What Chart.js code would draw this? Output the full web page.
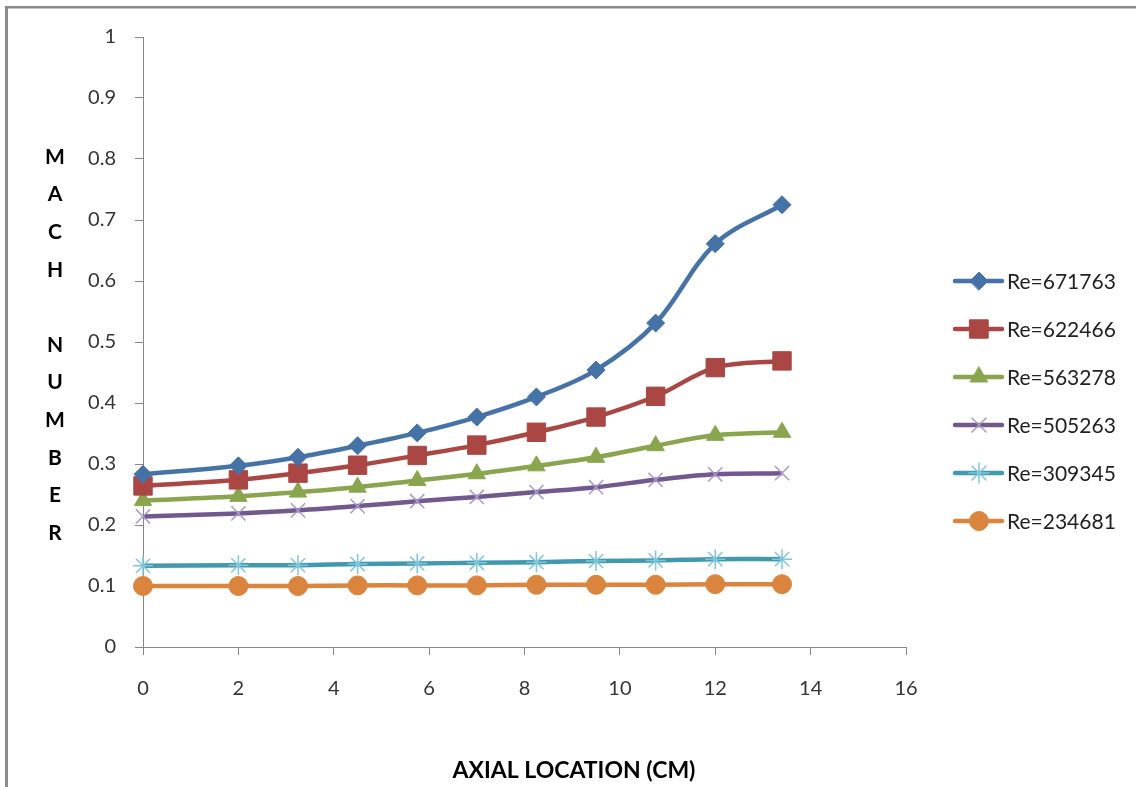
<!DOCTYPE html>
<html>
<head>
<meta charset="utf-8">
<script src="https://cdn.jsdelivr.net/npm/chart.js@4/dist/chart.umd.min.js"></script>
<style>
  html, body { margin: 0; padding: 0; background: #fff; overflow: hidden; }
  #mach { display: block; }
</style>
</head>
<body>
<canvas id="mach" width="1136" height="787"></canvas>
<script>
// axial location (cm)
const axialCm = [0, 2, 3.25, 4.5, 5.75, 7, 8.25, 9.5, 10.75, 12, 13.4];

// mach number per Reynolds number
const re671763 = [0.283, 0.297, 0.311, 0.330, 0.351, 0.377, 0.410, 0.454, 0.531, 0.661, 0.725];
const re622466 = [0.264, 0.274, 0.285, 0.298, 0.314, 0.331, 0.352, 0.377, 0.411, 0.458, 0.469];
const re563278 = [0.240, 0.247, 0.254, 0.262, 0.273, 0.284, 0.297, 0.311, 0.330, 0.347, 0.352];
const re505263 = [0.214, 0.219, 0.224, 0.231, 0.239, 0.246, 0.254, 0.262, 0.274, 0.283, 0.285];
const re309345 = [0.133, 0.134, 0.134, 0.136, 0.137, 0.138, 0.139, 0.141, 0.142, 0.144, 0.144];
const re234681 = [0.100, 0.100, 0.100, 0.101, 0.101, 0.101, 0.102, 0.102, 0.102, 0.103, 0.103];

const seriesLabels = ['Re=671763', 'Re=622466', 'Re=563278', 'Re=505263', 'Re=309345', 'Re=234681'];
const xTicks = [0, 2, 4, 6, 8, 10, 12, 14, 16];
const yTitle = 'MACH NUMBER';
const xTitle = 'AXIAL LOCATION (CM)';

const FONT = 'Lato, "Open Sans", sans-serif';

const toPoints = (ys) => ys.map((y, i) => ({ x: axialCm[i], y }));

const styles = [
    { color: '#4572A7', point: 'rectRot', radius: 9, pointBorder: '#4572A7', pw: 1 },
    { color: '#AA4643', point: 'rect', radius: 13, pointBorder: '#AA4643', pw: 1 },
    { color: '#89A54E', point: 'triangle', radius: 10, pointBorder: '#89A54E', pw: 1 },
    { color: '#71588F', point: 'crossRot', radius: 10, pointBorder: '#A898C4', pw: 1.5 },
    { color: '#4198AF', point: 'star', radius: 10, pointBorder: '#7FC6DA', pw: 1.5 },
    { color: '#DB843D', point: 'circle', radius: 9.5, pointBorder: '#DB843D', pw: 1 }
];
const allSeries = [re671763, re622466, re563278, re505263, re309345, re234681];

const datasets = allSeries.map((ys, i) => ({
    label: seriesLabels[i],
    data: toPoints(ys),
    borderColor: styles[i].color,
    backgroundColor: styles[i].color,
    borderWidth: 4.5,
    tension: 0.35,
    pointStyle: styles[i].point,
    pointRadius: styles[i].radius,
    pointHoverRadius: styles[i].radius,
    pointBackgroundColor: styles[i].color,
    pointBorderColor: styles[i].pointBorder,
    pointBorderWidth: styles[i].pw,
    clip: false
}));

function markerPath(ctx, style, r, x, y) {
    if (Chart.helpers && Chart.helpers.drawPoint) {
        Chart.helpers.drawPoint(ctx, { pointStyle: style, radius: r, rotation: 0, borderWidth: 1 }, x, y);
        return;
    }
    ctx.beginPath();
    ctx.arc(x, y, r, 0, Math.PI * 2);
    ctx.fill();
}

const decorPlugin = {
    id: 'decor',
    beforeDraw(chart) {
        const ctx = chart.ctx;
        ctx.save();
        ctx.fillStyle = '#fff';
        ctx.fillRect(0, 0, chart.width, chart.height);
        ctx.fillStyle = '#8a8a8a';
        ctx.fillRect(5, 6, chart.width - 5, 2.5);
        ctx.fillRect(5, 6, 3, chart.height - 6);
        ctx.restore();
    },
    afterDraw(chart) {
        const ctx = chart.ctx;
        ctx.save();
        // stacked y title
        ctx.fillStyle = '#000';
        ctx.font = 'bold 21px ' + FONT;
        ctx.textAlign = 'center';
        ctx.textBaseline = 'middle';
        yTitle.split('').forEach((ch, i) => {
            if (ch !== ' ') ctx.fillText(ch, 55, 157 + i * 37.6);
        });

        // x title, centred on the whole chart like the original
        ctx.font = 'bold 23px ' + FONT;
        ctx.fillText(xTitle, 574, 771);

        // legend
        chart.data.datasets.forEach((ds, i) => {
            const y = 281 + i * 48;
            ctx.strokeStyle = ds.borderColor;
            ctx.lineWidth = 4.5;
            ctx.lineCap = 'round';
            ctx.beginPath();
            ctx.moveTo(955, y);
            ctx.lineTo(1002, y);
            ctx.stroke();
            ctx.fillStyle = ds.pointBackgroundColor;
            ctx.strokeStyle = ds.pointBorderColor;
            ctx.lineWidth = ds.pointBorderWidth;
            markerPath(ctx, ds.pointStyle, ds.pointRadius, 979, y);
            ctx.fillStyle = '#222';
            ctx.font = '21px ' + FONT;
            ctx.textAlign = 'left';
            ctx.textBaseline = 'middle';
            ctx.fillText(ds.label, 1007, y + 1);
        });
        ctx.restore();
    }
};

new Chart(document.getElementById('mach'), {
    type: 'line',
    data: { datasets },
    plugins: [decorPlugin],
    options: {
        responsive: false,
        animation: false,
        devicePixelRatio: 1,
        layout: {
            padding: { left: 0, top: 37, right: 230, bottom: 0 }
        },
        plugins: {
            legend: { display: false },
            tooltip: { enabled: false }
        },
        scales: {
            x: {
                type: 'linear',
                min: 0,
                max: 16,
                afterBuildTicks: (scale) => {
                    scale.ticks = xTicks.map(v => ({ value: v }));
                },
                afterFit: (scale) => { scale.height = 140; },
                grid: {
                    drawOnChartArea: false,
                    drawTicks: true,
                    tickLength: 8,
                    color: '#868686'
                },
                border: { color: '#868686', width: 1 },
                ticks: {
                    color: '#333',
                    font: { family: FONT, size: 20 },
                    padding: 22,
                    maxRotation: 0
                },
                title: { display: false }
            },
            y: {
                min: 0,
                max: 1,
                afterFit: (scale) => { scale.width = 143; },
                grid: {
                    drawOnChartArea: false,
                    drawTicks: true,
                    tickLength: 8,
                    color: '#868686'
                },
                border: { color: '#868686', width: 1 },
                ticks: {
                    stepSize: 0.1,
                    color: '#333',
                    font: { family: FONT, size: 20 },
                    padding: 19,
                    callback: (v) => Math.round(v * 10) / 10
                }
            }
        }
    }
});
</script>
</body>
</html>
